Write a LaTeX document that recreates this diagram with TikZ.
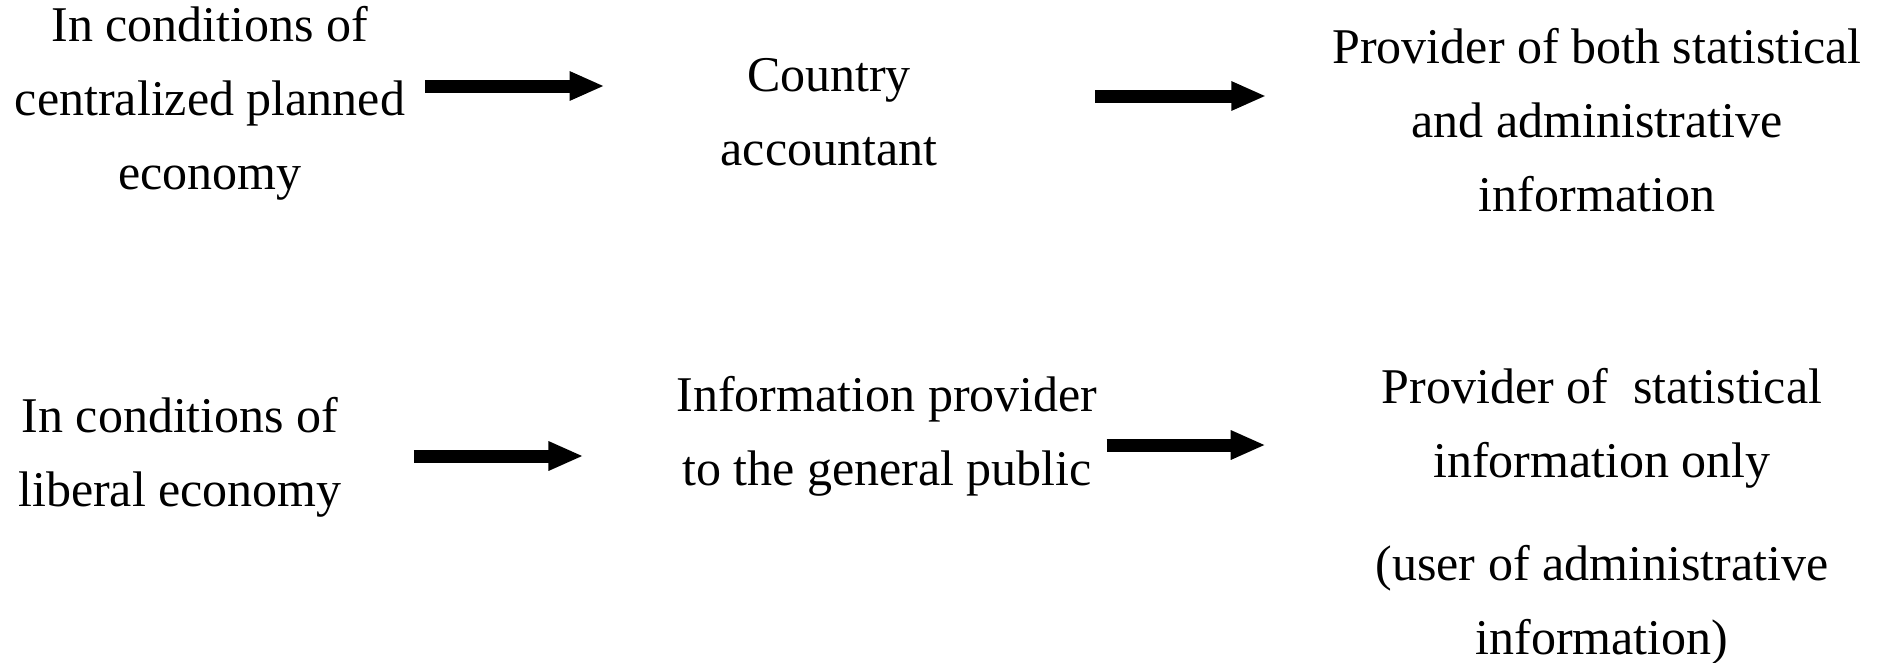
\documentclass[tikz,border=0pt]{standalone}
\usepackage{fontspec}
\setmainfont{Liberation Serif}
\usetikzlibrary{arrows.meta}
\tikzset{   txt/.style = {align = center, inner sep = 0pt, font = \fontsize{50}{74}\selectfont},
            bigarrow/.style = {line width = 13pt, -{Triangle[length=35pt, width=27pt]}}}

\begin{document}
\begin{tikzpicture}[x=1pt, y=-1pt]
                        \useasboundingbox (0,0) rectangle (1885,662);
                        % planned economy
                        \node[txt] (left1) at (210,103) {In conditions of\\centralized planned\\economy};
                        \node[txt] (acct) at (829,112) {Country\\accountant};
                        \node[txt] (both) at (1597,120) {Provider of both statistical\\and administrative\\information};
                        % liberal economy
                        \node[txt] (left2) at (180,457) {In conditions of\\liberal economy};
                        \node[txt] (pub) at (887,436) {Information provider\\to the general public};
                        \node[txt] (prov2) at (1602,428) {Provider of \ statistical\\information only};
                        \node[txt] (user) at (1602,605) {(user of administrative\\information)};
                        \draw[bigarrow] ([shift={(20,-17)}]left1.east) -- ([shift={(-116,-26)}]acct.west);
                        \draw[bigarrow] ([shift={(158,-16)}]acct.east) -- ([shift={(-66,-24)}]both.west);
                        \draw[bigarrow] ([shift={(72,-1)}]left2.east) -- ([shift={(-93,20)}]pub.west);
                        \draw[bigarrow] ([shift={(9,9)}]pub.east) -- ([shift={(-116,17)}]prov2.west);
                      \end{tikzpicture}
\end{document}
